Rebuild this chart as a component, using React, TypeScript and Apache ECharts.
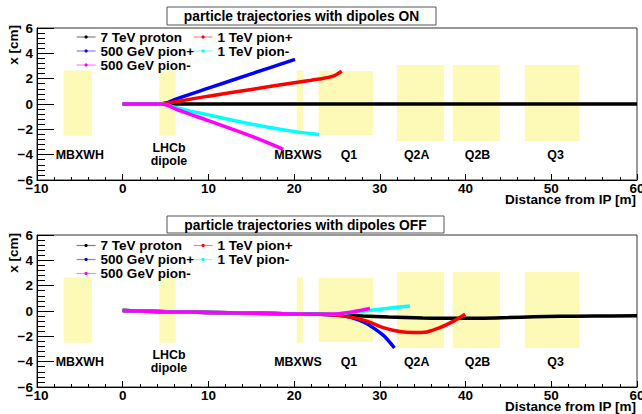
import React, { useEffect, useRef } from "react";
import * as echarts from "echarts";

const FONT = '"Liberation Sans", Arial, Helvetica, sans-serif';

// ---------- legend / series identity ----------
const seriesNames = ["7 TeV proton", "500 GeV pion+", "1 TeV pion+", "1 TeV pion-", "500 GeV pion-"];
const seriesColors = ["#000000", "#0000ff", "#ff0000", "#00ffff", "#ff00ff"];
const legendCol1 = ["7 TeV proton", "500 GeV pion+", "500 GeV pion-"];
const legendCol2 = ["1 TeV pion+", "1 TeV pion-"];

// ---------- dipoles ON trajectories [z (m), x (cm)] ----------
const protonOn = [[0, 0], [10, 0], [20, 0], [30, 0], [40, 0], [50, 0], [60, 0]];
const pion500PlusOn = [[0, 0], [4.3, 0], [5.3, 0.12], [6.2, 0.38], [10, 1.25], [15, 2.38], [20.1, 3.53]];
const pion1TPlusOn = [[0, 0], [4.3, 0], [5.2, 0.06], [6.2, 0.18], [10, 0.62], [15, 1.15], [20, 1.68], [22, 1.88], [23, 1.98], [24, 2.1], [24.8, 2.27], [25.55, 2.58]];
const pion1TMinusOn = [[0, 0], [4.3, 0], [5.3, -0.1], [6.2, -0.3], [8, -0.58], [10, -0.86], [13, -1.3], [16.8, -1.82], [20.5, -2.22], [22.9, -2.4]];
const pion500MinusOn = [[0, 0], [4.3, 0], [5.3, -0.12], [6.2, -0.4], [10, -1.32], [15, -2.54], [18.74, -3.58]];

// ---------- dipoles OFF trajectories ----------
const commonOff = [[0, 0.03], [5, -0.05], [10, -0.11], [15, -0.17], [20, -0.23], [23, -0.26]];
const protonOffTail = [[25, -0.31], [28, -0.4], [31, -0.48], [35, -0.55], [39, -0.58], [42, -0.57], [45, -0.52], [48, -0.46], [51, -0.42], [55, -0.4], [60, -0.38]];
const pion500PlusOffTail = [[24, -0.28], [25.5, -0.36], [26.5, -0.48], [27.5, -0.7], [28.5, -1.0], [29.5, -1.45], [30.5, -1.98], [31.7, -2.92]];
const pion1TPlusOffTail = [[24, -0.28], [26, -0.42], [27.3, -0.58], [28.5, -0.8], [30.4, -1.31], [32.3, -1.62], [33.9, -1.7], [35.5, -1.65], [37, -1.32], [38.6, -0.8], [39.95, -0.26]];
const pion1TMinusOffTail = [[24.5, -0.26], [26, -0.16], [28, -0.02], [30.5, 0.17], [33.5, 0.4]];
const pion500MinusOffTail = [[24.5, -0.24], [25.5, -0.19], [26.8, -0.07], [27.8, 0.06], [28.85, 0.21]];

// ---------- magnets ----------
const magnetNames = ["MBXWH", "LHCb\ndipole", "MBXWS", "Q1", "Q2A", "Q2B", "Q3"];
const magnetStart = [-6.9, 4.27, 20.3, 22.85, 32.0, 38.5, 46.9];
const magnetEnd = [-3.6, 6.18, 21.05, 29.2, 37.5, 44.0, 53.3];
const magnetLow = [-2.5, -2.5, -2.5, -2.45, -2.92, -2.92, -2.92];
const magnetHigh = [2.65, 2.65, 2.65, 2.6, 3.08, 3.08, 3.08];
const magnetLabelX = [-5.0, 5.4, 20.45, 26.4, 34.3, 41.4, 50.5];
const MAGNET_LABEL_Y = -4;

// ---------- axes ----------
const X_MIN = -10, X_MAX = 60, X_STEP = 10;
const Y_MIN = -6, Y_MAX = 6, Y_STEP = 2;
const X_TITLE = "Distance from IP [m]";
const Y_TITLE = "x [cm]";

const panelTitles = ["particle trajectories with dipoles ON", "particle trajectories with dipoles OFF"];

const onSet = [protonOn, pion500PlusOn, pion1TPlusOn, pion1TMinusOn, pion500MinusOn];
const offSet = [
  commonOff.concat(protonOffTail),
  commonOff.concat(pion500PlusOffTail),
  commonOff.concat(pion1TPlusOffTail),
  commonOff.concat(pion1TMinusOffTail),
  commonOff.concat(pion500MinusOffTail),
];

const YELLOW = "#fcfab6";

function minus(v: number) {
  return v < 0 ? "\u2212" + Math.abs(v) : String(v);
}

export default function App() {
  const ref = useRef<HTMLDivElement>(null);
  useEffect(() => {
    if (!ref.current) return;
    const chart = echarts.init(ref.current, null, { renderer: "svg" });
    const lbl = { color: "#000", fontFamily: FONT, fontWeight: "bold" as const, fontSize: 13.5 };
    const gridTops = [28, 235];

    const magnetData = magnetNames.map((_, i) => [magnetStart[i], magnetEnd[i], magnetLow[i], magnetHigh[i], magnetLabelX[i]]);

    const series: any[] = [];
    [0, 1].forEach((g) => {
      series.push({
        type: "custom",
        xAxisIndex: g,
        yAxisIndex: g,
        z: 1,
        silent: true,
        encode: { x: [0, 1, 4], y: [2, 3] },
        data: magnetData,
        renderItem: (params: any, api: any) => {
          const p0 = api.coord([api.value(0), api.value(3)]);
          const p1 = api.coord([api.value(1), api.value(2)]);
          const lp = api.coord([api.value(4), MAGNET_LABEL_Y]);
          return {
            type: "group",
            children: [
              { type: "rect", shape: { x: p0[0], y: p0[1], width: p1[0] - p0[0], height: p1[1] - p0[1] }, style: { fill: YELLOW } },
              {
                type: "text",
                x: lp[0],
                y: lp[1],
                style: {
                  text: magnetNames[params.dataIndex],
                  align: "center",
                  verticalAlign: "middle",
                  fontFamily: FONT,
                  fontWeight: "bold",
                  fontSize: 12.4,
                  lineHeight: 12.6,
                  fill: "#000",
                },
              },
            ],
          };
        },
      });
      const set = g === 0 ? onSet : offSet;
      set.forEach((d, i) => {
        series.push({
          type: "line",
          name: seriesNames[i],
          xAxisIndex: g,
          yAxisIndex: g,
          z: 2 + i,
          data: d,
          showSymbol: false,
          symbol: "circle",
          smooth: 0.3,
          color: seriesColors[i],
          lineStyle: { width: 3.5, color: seriesColors[i], cap: "butt" },
        });
      });
    });

    const legendBase = {
      orient: "vertical",
      itemWidth: 19,
      itemHeight: 4,
      itemGap: 0,
      padding: 0,
      selectedMode: false,
      lineStyle: { width: 1.2, opacity: 0.5 },
      textStyle: { ...lbl, lineHeight: 12 },
    };
    const legendTops = [30, 238.5];
    const legends: any[] = [];
    legendTops.forEach((t) => {
      legends.push({ ...legendBase, left: 76, top: t, data: legendCol1 });
      legends.push({ ...legendBase, left: 193, top: t, data: legendCol2 });
    });

    const titleBoxes = [
      { x: 167, y: 7, w: 269, h: 18 },
      { x: 167, y: 216, w: 277, h: 17 },
    ];
    const graphic: any[] = [];
    titleBoxes.forEach((b, i) => {
      graphic.push({ type: "rect", z: 10, shape: { x: b.x, y: b.y, width: b.w, height: b.h }, style: { fill: "#fff", stroke: "#555", lineWidth: 1 } });
      graphic.push({
        type: "text",
        z: 11,
        x: b.x + b.w / 2,
        y: b.y + b.h / 2 + 0.5,
        style: { text: panelTitles[i], align: "center", verticalAlign: "middle", fontFamily: FONT, fontWeight: "bold", fontSize: 13.8, fill: "#000" },
      });
    });
    [25, 233].forEach((y) => {
      graphic.push({
        type: "text",
        x: 13,
        y,
        rotation: Math.PI / 2,
        style: { text: Y_TITLE, align: "right", verticalAlign: "middle", fontFamily: FONT, fontWeight: "bold", fontSize: 13.5, fill: "#000" },
      });
    });
    [199, 406].forEach((y) => {
      graphic.push({
        type: "text",
        x: 636,
        y,
        style: { text: X_TITLE, align: "right", verticalAlign: "middle", fontFamily: FONT, fontWeight: "bold", fontSize: 13.5, fill: "#000" },
      });
    });

    chart.setOption({
      animation: false,
      backgroundColor: "#fff",
      grid: gridTops.map((t) => ({
        left: 37,
        top: t,
        width: 600,
        height: 152,
        show: true,
        borderColor: "#333",
        borderWidth: 1,
        backgroundColor: "transparent",
        containLabel: false,
        outerBoundsMode: "none",
      })),
      xAxis: [0, 1].map((g) => ({
        type: "value",
        gridIndex: g,
        min: X_MIN,
        max: X_MAX,
        interval: X_STEP,
        axisLine: { show: true, onZero: false, lineStyle: { color: "#000", width: 1 } },
        axisTick: { show: true, inside: true, length: 6, lineStyle: { color: "#000" } },
        minorTick: { show: true, splitNumber: 5, length: 3, lineStyle: { color: "#000" } },
        splitLine: { show: false },
        axisLabel: { ...lbl, margin: 1, formatter: minus, showMinLabel: true, showMaxLabel: true },
      })),
      yAxis: [0, 1].map((g) => ({
        type: "value",
        gridIndex: g,
        min: Y_MIN,
        max: Y_MAX,
        interval: Y_STEP,
        axisLine: { show: true, onZero: false, lineStyle: { color: "#000", width: 1 } },
        axisTick: { show: true, inside: true, length: 17, lineStyle: { color: "#000" } },
        minorTick: { show: true, splitNumber: 5, length: 8, lineStyle: { color: "#000" } },
        splitLine: { show: false },
        axisLabel: { ...lbl, margin: 4, formatter: minus },
      })),
      legend: legends,
      graphic,
      series,
    });
    return () => chart.dispose();
  }, []);
  return <div ref={ref} style={{ position: "absolute", left: 0, top: 0, width: 642, height: 414 }} />;
}
